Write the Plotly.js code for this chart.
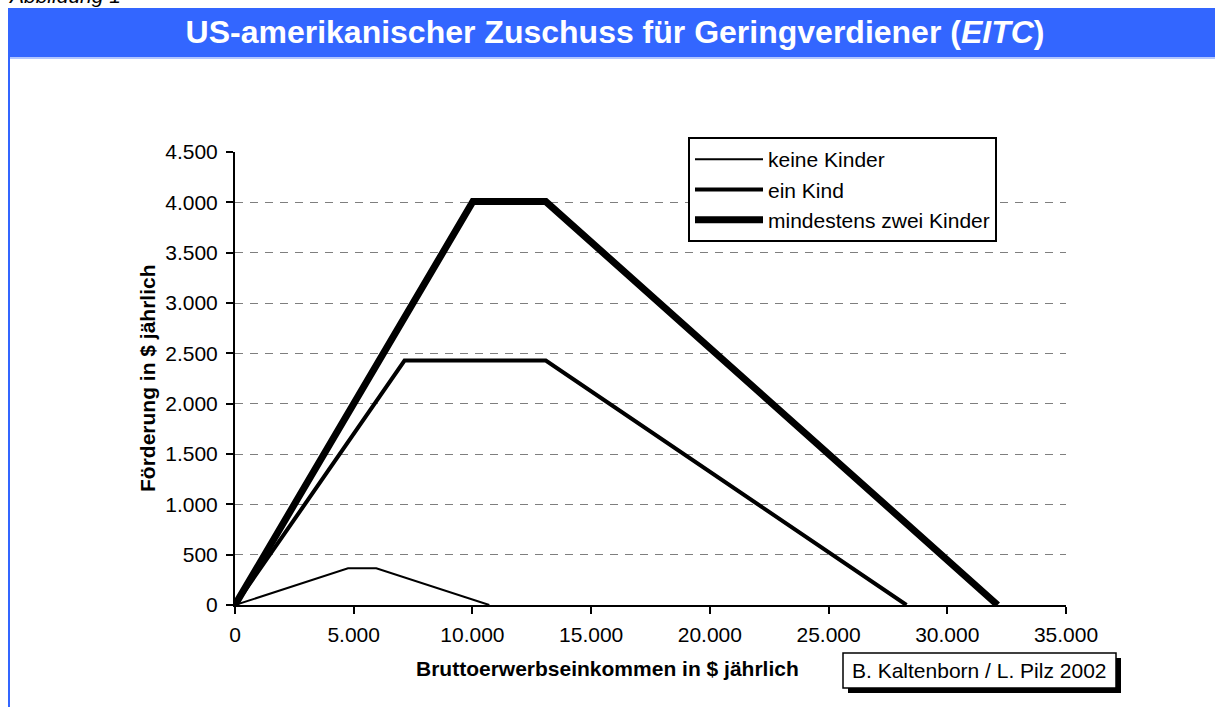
<!DOCTYPE html>
<html>
<head>
<meta charset="utf-8">
<script src="https://cdn.plot.ly/plotly-3.0.1.min.js"></script>
<style>
  html, body { margin: 0; padding: 0; background: #ffffff; }
  #chart { width: 1215px; height: 707px; }
</style>
</head>
<body>
<div id="chart"></div>
<script>
// === Daten ===
const seriesNames = ["keine Kinder", "ein Kind", "mindestens zwei Kinder"];

const einkommenKeine = [0, 4760, 5950, 10710];
const foerderungKeine = [0, 364, 364, 0];

const einkommenEin = [0, 7140, 13090, 28281];
const foerderungEin = [0, 2428, 2428, 0];

const einkommenZwei = [0, 10020, 13090, 32121];
const foerderungZwei = [0, 4008, 4008, 0];

const xTicks = [0, 5000, 10000, 15000, 20000, 25000, 30000, 35000];
const yTicks = [0, 500, 1000, 1500, 2000, 2500, 3000, 3500, 4000, 4500];

// === Seitenmaße / Plotbereich in Pixeln ===
const W = 1215, H = 707;
const plotL = 235, plotR = 1066, plotT = 152, plotB = 605;
const px = x => (x - plotL) / (plotR - plotL);   // Pixel -> paper x
const py = y => (plotB - y) / (plotB - plotT);   // Pixel -> paper y

const FONT = "Arial, 'Liberation Sans', sans-serif";

const traces = [
  {
    x: einkommenKeine, y: foerderungKeine, name: seriesNames[0],
    type: "scatter", mode: "lines",
    line: { color: "#000000", width: 2 }
  },
  {
    x: einkommenEin, y: foerderungEin, name: seriesNames[1],
    type: "scatter", mode: "lines",
    line: { color: "#000000", width: 4 }
  },
  {
    x: einkommenZwei, y: foerderungZwei, name: seriesNames[2],
    type: "scatter", mode: "lines",
    line: { color: "#000000", width: 7 }
  }
];

const layout = {
  width: W,
  height: H,
  margin: { l: plotL, r: W - plotR, t: plotT, b: H - plotB },
  paper_bgcolor: "#ffffff",
  plot_bgcolor: "#ffffff",
  separators: ",.",
  font: { family: FONT, size: 21, color: "#000000" },
  title: {
    text: "<b>US-amerikanischer Zuschuss für Geringverdiener (<i>EITC</i>)</b>",
    font: { family: FONT, size: 32, color: "#ffffff" },
    xref: "paper", x: px(615), xanchor: "center",
    yref: "container", y: 1 - 32 / H, yanchor: "middle"
  },
  xaxis: {
    range: [0, 35000],
    tickvals: xTicks,
    tickformat: ",d",
    showgrid: false,
    zeroline: false,
    showline: true, linecolor: "#000000", linewidth: 2,
    ticks: "outside", ticklen: 7, tickwidth: 2, tickcolor: "#000000",
    ticklabelstandoff: 3,
    tickfont: { family: FONT, size: 21 },
    fixedrange: true
  },
  yaxis: {
    range: [0, 4500],
    tickvals: yTicks,
    tickformat: ",d",
    showgrid: true, gridcolor: "#7f7f7f", gridwidth: 1, griddash: "8px,7px",
    zeroline: false,
    showline: true, linecolor: "#000000", linewidth: 2,
    ticks: "outside", ticklen: 7, tickwidth: 2, tickcolor: "#000000",
    ticklabelstandoff: 4,
    tickfont: { family: FONT, size: 21 },
    fixedrange: true
  },
  showlegend: true,
  legend: {
    x: px(688), y: py(137), xanchor: "left", yanchor: "top",
    bgcolor: "#ffffff", bordercolor: "#000000", borderwidth: 2,
    font: { family: FONT, size: 21 },
    itemwidth: 68,
    tracegroupgap: 0
  },
  shapes: [
    // blauer Titelbalken
    { type: "rect", xref: "paper", yref: "paper", layer: "below",
      x0: px(8), x1: px(W + 5), y0: py(8), y1: py(57),
      fillcolor: "#3366ff", line: { width: 0 } },
    { type: "line", xref: "paper", yref: "paper", layer: "below",
      x0: px(8), x1: px(W + 5), y0: py(58), y1: py(58),
      line: { color: "#99b3ff", width: 1.5 } },
    // linker Rahmen
    { type: "line", xref: "paper", yref: "paper", layer: "below",
      x0: px(9), x1: px(9), y0: py(57), y1: py(H + 5),
      line: { color: "#3366ff", width: 2 } },
    // Quellenkasten mit Schatten
    { type: "rect", xref: "paper", yref: "paper",
      x0: px(848), x1: px(1121), y0: py(658), y1: py(693),
      fillcolor: "#000000", line: { width: 0 } },
    { type: "rect", xref: "paper", yref: "paper",
      x0: px(843), x1: px(1116), y0: py(653), y1: py(688),
      fillcolor: "#ffffff", line: { color: "#000000", width: 1.5 } }
  ],
  annotations: [
    { text: "<i>Abbildung 1</i>", xref: "paper", yref: "paper",
      x: px(6), y: py(9), xanchor: "left", yanchor: "bottom",
      showarrow: false, font: { family: FONT, size: 21 } },
    { text: "<b>Bruttoerwerbseinkommen in $ jährlich</b>", xref: "paper", yref: "paper",
      x: px(607), y: py(668), xanchor: "center", yanchor: "middle",
      showarrow: false, font: { family: FONT, size: 21 } },
    { text: "<b>Förderung in $ jährlich</b>", xref: "paper", yref: "paper",
      x: px(147), y: py(378), xanchor: "center", yanchor: "middle",
      textangle: -90, showarrow: false, font: { family: FONT, size: 21 } },
    { text: "B. Kaltenborn / L. Pilz 2002", xref: "paper", yref: "paper",
      x: px(979.5), y: py(670.5), xanchor: "center", yanchor: "middle",
      showarrow: false, font: { family: FONT, size: 21 } }
  ]
};

Plotly.newPlot("chart", traces, layout, { displayModeBar: false, staticPlot: true });
</script>
</body>
</html>
